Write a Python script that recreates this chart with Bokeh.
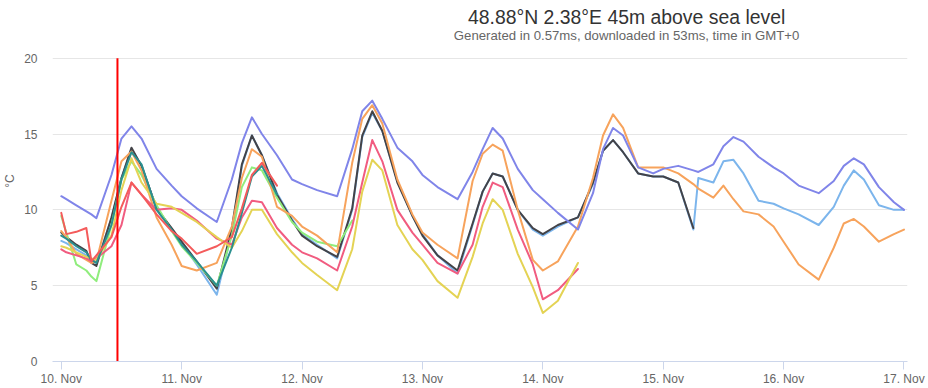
import numpy as np
from bokeh.plotting import figure
from bokeh.models import Range1d, FixedTicker, Label
from bokeh.embed import file_html
from bokeh.resources import INLINE

# hours since 10 Nov 00:00 (GMT+0)
HOURS = [0, 1, 3, 5, 6, 7, 10, 12, 14, 16, 19, 22,
         24, 27, 31, 34, 36, 38, 40, 43, 46,
         48, 51, 55, 58, 60, 62, 64, 67, 70,
         72, 75, 79, 82, 84, 86, 88, 91, 94,
         96, 99, 103, 106, 108, 110, 112, 115, 118,
         120, 123, 126, 127, 130, 132, 134, 136, 139, 142,
         144, 147, 151, 154, 156, 158, 160, 163, 166, 168]

N = None
LIGHT_BLUE = [7.95, 7.8, 7.4, 7.0, 6.7, 6.5, 9.4, 12.1, 14.0, 12.9, 10.1, 8.7,
              7.8, 6.4, 4.4, 8.5, 12.9, 14.9, 13.6, 11.1, 9.4,
              8.4, 7.7, 6.8, 10.0, 14.8, 16.4, 15.2, 11.9, 9.6,
              8.4, 7.0, 5.8, 9.0, 11.2, 12.4, 12.2, 10.0, 8.7,
              8.3, 8.9, 9.5, 11.7, 13.9, 14.6, 13.8, 12.4, 12.2,
              12.2, 11.8, 8.7, 12.1, 11.8, 13.2, 13.3, 12.4, 10.6, 10.4,
              10.1, 9.7, 9.0, 10.2, 11.6, 12.6, 12.0, 10.3, 10.0, 10.0]
BLACK = [8.5, 8.2, 7.7, 7.3, 6.5, 6.3, 9.5, 12.1, 14.1, 12.9, 10.1, 8.8,
         7.9, 6.6, 4.8, 8.8, 13.0, 14.9, 13.6, 11.0, 9.3,
         8.3, 7.6, 6.9, 10.1, 14.9, 16.5, 15.2, 11.8, 9.6,
         8.3, 7.0, 6.0, 9.1, 11.2, 12.4, 12.2, 10.0, 8.8,
         8.4, 9.0, 9.5, 11.8, 13.9, 14.6, 13.8, 12.4, 12.2,
         12.2, 11.8, 8.8, N, N, N, N, N, N, N,
         N, N, N, N, N, N, N, N, N, N]
GREEN = [9.6, 8.5, 6.4, 6.0, 5.6, 5.3, 9.0, 12.0, 13.2, 12.3, 10.3, 8.6,
         7.6, 6.5, 5.0, 8.3, 11.5, 12.8, 12.6, 10.8, 9.2,
         8.5, 7.9, 7.6, 9.3, N, N, N, N, N,
         N, N, N, N, N, N, N, N, N,
         N, N, N, N, N, N, N, N, N,
         N, N, N, N, N, N, N, N, N, N,
         N, N, N, N, N, N, N, N, N, N]
ORANGE = [8.6, 8.2, 7.1, 6.7, 6.5, 6.6, 10.6, 13.2, 13.85, 12.6, 9.5, 7.7,
          6.3, 6.0, 6.5, 8.9, 12.1, 14.0, 13.5, 10.2, 9.6,
          8.9, 8.3, 7.2, 13.1, 16.0, 16.9, 15.7, 12.0, 9.7,
          8.5, 7.7, 6.8, 11.9, 13.7, 14.3, 13.9, 10.0, 6.7,
          6.0, 6.6, 8.9, 12.1, 14.9, 16.3, 15.4, 12.8, 12.8,
          12.8, 12.4, 11.7, 11.4, 10.8, 11.6, 10.7, 9.9, 9.7, 8.9,
          7.9, 6.4, 5.4, 7.5, 9.1, 9.4, 8.9, 7.9, 8.4, 8.7]
PURPLE = [10.9, 10.7, 10.3, 9.9, 9.7, 9.45, 12.3, 14.7, 15.5, 14.7, 12.7, 11.6,
          10.9, 10.1, 9.2, 12.0, 14.4, 16.1, 15.0, 13.6, 12.0,
          11.7, 11.3, 10.9, 14.0, 16.5, 17.2, 16.0, 14.1, 13.2,
          12.3, 11.5, 10.7, 12.5, 14.0, 15.4, 14.7, 12.7, 11.3,
          10.7, 9.8, 8.7, 11.1, 14.0, 15.4, 14.9, 12.8, 12.4,
          12.7, 12.9, 12.6, 12.5, 13.0, 14.2, 14.8, 14.5, 13.5, 12.8,
          12.4, 11.6, 11.1, 11.9, 12.9, 13.4, 13.0, 11.5, 10.5, 10.0]
PINK = [7.4, 7.2, 7.0, 6.8, 6.6, 6.8, 7.6, 9.0, 11.8, 11.0, 10.0, 10.1,
        10.0, 9.3, 8.1, 7.7, 9.5, 10.6, 10.5, 8.8, 7.7,
        7.2, 6.8, 6.0, 8.9, 11.8, 14.6, 13.2, 10.0, 8.5,
        7.7, 6.5, 5.8, 7.7, 10.2, 11.8, 11.5, 8.7, 6.4,
        4.1, 4.7, 6.1, N, N, N, N, N, N,
        N, N, N, N, N, N, N, N, N, N,
        N, N, N, N, N, N, N, N, N, N]
YELLOW = [7.6, 7.5, 7.2, 6.9, 6.8, 6.7, 8.3, 11.3, 13.4, 11.8, 10.4, 10.2,
          9.8, 9.2, 8.2, 7.5, 8.6, 10.0, 10.0, 8.4, 7.2,
          6.5, 5.7, 4.7, 7.4, 11.2, 13.3, 12.6, 9.0, 7.4,
          6.7, 5.3, 4.2, 6.9, 9.1, 10.7, 10.0, 7.1, 4.9,
          3.2, 4.0, 6.5, N, N, N, N, N, N,
          N, N, N, N, N, N, N, N, N, N,
          N, N, N, N, N, N, N, N, N, N]
TEAL = [8.3, 8.1, 7.6, 7.2, 6.7, 6.5, 9.0, 12.0, 13.8, 13.0, 10.0, 8.7,
        7.7, 6.6, 5.0, 7.5, 9.8, 12.2, 12.9, 11.0, N,
        N, N, N, N, N, N, N, N, N,
        N, N, N, N, N, N, N, N, N,
        N, N, N, N, N, N, N, N, N,
        N, N, N, N, N, N, N, N, N, N,
        N, N, N, N, N, N, N, N, N, N]
RED = [9.8, 8.4, 8.55, 8.8, 6.6, 7.0, 8.2, 10.2, 11.8, 11.0, 9.7, 8.6,
       8.1, 7.1, 7.6, 8.2, 10.1, 12.3, 13.1, 11.6, N,
       N, N, N, N, N, N, N, N, N,
       N, N, N, N, N, N, N, N, N,
       N, N, N, N, N, N, N, N, N,
       N, N, N, N, N, N, N, N, N, N,
       N, N, N, N, N, N, N, N, N, N]

SERIES = [("light blue", "#7cb5ec", LIGHT_BLUE), ("black", "#434348", BLACK),
          ("green", "#90ed7d", GREEN), ("orange", "#f7a35c", ORANGE),
          ("purple", "#8085e9", PURPLE), ("pink", "#f15c80", PINK),
          ("yellow", "#e4d354", YELLOW), ("teal", "#2b908f", TEAL),
          ("red", "#f45b5b", RED)]

TICK_HOURS = [0, 24, 48, 72, 96, 120, 144, 168]
TICK_LABELS = ["10. Nov", "11. Nov", "12. Nov", "13. Nov", "14. Nov", "15. Nov", "16. Nov", "17. Nov"]
Y_TICKS = [0, 5, 10, 15, 20]
Y_MIN, Y_MAX = 0, 20
NOW_HOUR = 11.2

TITLE = "48.88°N 2.38°E 45m above sea level"
SUBTITLE = "Generated in 0.57ms, downloaded in 53ms, time in GMT+0"
FONT = "Liberation Sans"

# The frame reaches the top of the canvas so the title block sits inside it;
# the value axis itself is bounded to 0..20.
TOP_SPACE = 363 / 15.25   # data units at the top of the frame
p = figure(width=928, height=388, x_range=Range1d(-1.75, 168.7), y_range=Range1d(0, TOP_SPACE),
           output_backend="svg", toolbar_location=None,
           min_border_left=52, min_border_right=21, min_border_top=0, min_border_bottom=25)
p.outline_line_color = None
p.background_fill_color = "white"
p.border_fill_color = "white"

p.xgrid.grid_line_color = None
p.ygrid.grid_line_color = "#e6e6e6"
p.ygrid.ticker = FixedTicker(ticks=Y_TICKS)

p.yaxis.ticker = FixedTicker(ticks=Y_TICKS)
p.yaxis.bounds = (Y_MIN, Y_MAX)
p.yaxis.axis_line_color = None
p.yaxis.major_tick_line_color = None
p.yaxis.minor_tick_line_color = None
p.yaxis.major_tick_out = 0
p.yaxis.major_tick_in = 0
p.yaxis.major_label_standoff = 15
p.yaxis.major_label_text_color = "#666666"
p.yaxis.major_label_text_font_size = "12px"
p.yaxis.major_label_text_font = FONT
p.yaxis.axis_label = "°C"
p.yaxis.axis_label_standoff = 4
p.yaxis.axis_label_text_font_size = "12px"
p.yaxis.axis_label_text_font_style = "normal"
p.yaxis.axis_label_text_color = "#666666"
p.yaxis.axis_label_text_font = FONT

p.xaxis.ticker = FixedTicker(ticks=TICK_HOURS)
p.xaxis.major_label_overrides = {h: lab for h, lab in zip(TICK_HOURS, TICK_LABELS)}
p.xaxis.axis_line_color = "#ccd6eb"
p.xaxis.major_tick_line_color = "#ccd6eb"
p.xaxis.minor_tick_line_color = None
p.xaxis.major_tick_out = 8
p.xaxis.major_tick_in = 0
p.xaxis.major_label_standoff = 2
p.xaxis.major_label_text_color = "#666666"
p.xaxis.major_label_text_font_size = "12px"
p.xaxis.major_label_text_font = FONT

x = np.array(HOURS, dtype=float)
for name, color, vals in SERIES:
    y = np.array([np.nan if v is None else v for v in vals], dtype=float)
    p.line(x, y, line_color=color, line_width=2, line_join="round", line_cap="round")

# current-time marker spanning the value range
p.segment(x0=[NOW_HOUR], y0=[Y_MIN], x1=[NOW_HOUR], y1=[Y_MAX], line_color="#ff0000", line_width=2)

p.add_layout(Label(x=112.7, y=22.72, text=TITLE, text_align="center", text_baseline="alphabetic",
                   text_font_size="19.4px", text_color="#333333", text_font=FONT))
p.add_layout(Label(x=112.7, y=21.47, text=SUBTITLE, text_align="center", text_baseline="alphabetic",
                   text_font_size="13.2px", text_color="#666666", text_font=FONT))

open("out.html", "w").write(file_html(p, INLINE))
